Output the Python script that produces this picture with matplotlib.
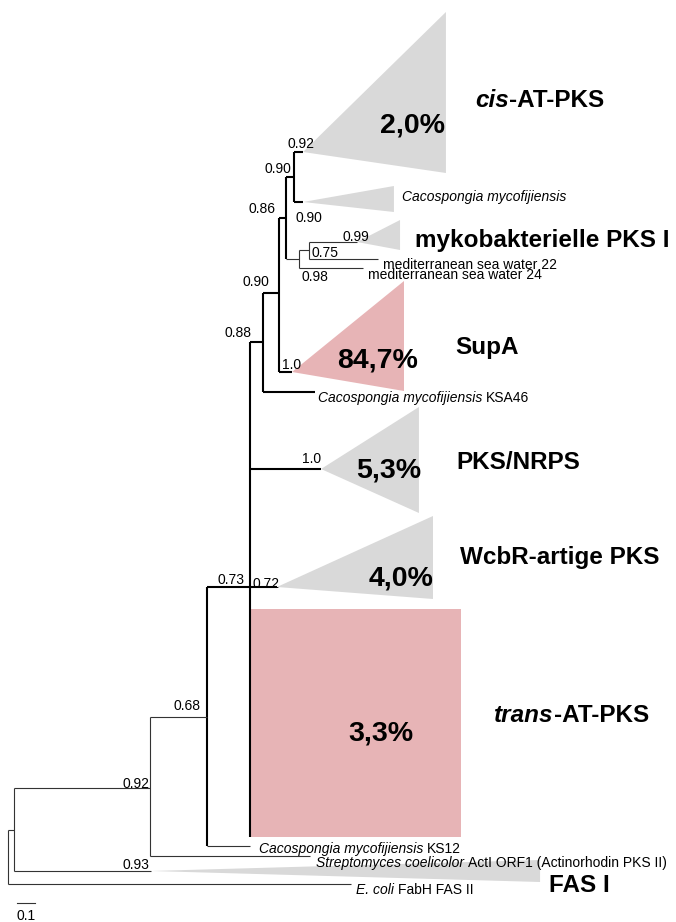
import matplotlib
matplotlib.use("Agg")
import matplotlib.pyplot as plt
from matplotlib.patches import Polygon, Rectangle
from matplotlib.text import Text

FONT = ["Liberation Sans", "DejaVu Sans"]
plt.rcParams["font.family"] = FONT

# ---------------- tree data ----------------
# internal nodes: name, parent, depth (branch-length units), vertical position
node_names  = ["root", "n1", "n2", "n3", "n4", "n5", "n6", "n7", "n8", "n9", "n10"]
node_parent = [None, "root", "n1", "n2", "n3", "n4", "n5", "n6", "n7", "n7", "n9"]
node_depth  = [0.0, 0.033, 0.789, 1.106, 1.344, 1.417, 1.506, 1.544, 1.589, 1.617, 1.672]
node_y      = [857, 830, 788, 717, 587, 342, 293, 218, 177, 259, 250]

# leaf branches
tip_parent = ["root", "n2", "n3", "n5", "n9", "n10"]
tip_depth  = [1.906, 1.678, 1.344, 1.706, 1.972, 2.056]
tip_y      = [884, 856, 846, 392, 268, 259]

# collapsed clades (triangles)
clade_names  = ["cis-AT-PKS", "Cacospongia", "myko", "SupA", "PKS/NRPS", "WcbR", "FAS I"]
clade_parent = ["n8", "n8", "n10", "n6", "n4", "n4", "n1"]
clade_apex   = [1.639, 1.639, 1.939, 1.578, 1.739, 1.494, 0.794]
clade_tip    = [2.433, 2.144, 2.178, 2.200, 2.283, 2.361, 2.956]
clade_y      = [152, 202, 242, 372, 469, 587, 871]
clade_top    = [12, 186, 220, 281, 407, 516, 860]
clade_bottom = [173, 212, 250, 391, 513, 599, 882]
clade_pink   = [False, False, False, True, False, False, False]

# collapsed clade drawn as block (trans-AT-PKS)
block_parent = "n4"
block_x0, block_x1 = 1.344, 2.517
block_top, block_bottom = 609, 837

# support values and where they are printed (depth, vertical)
support_vals = ["0.92", "0.90", "0.90", "0.86", "0.99", "0.75", "0.98", "0.90",
                "1.0", "0.88", "1.0", "0.73", "0.72", "0.68", "0.92", "0.93"]
support_x = [1.628, 1.500, 1.672, 1.411, 1.933, 1.761, 1.706, 1.378,
             1.578, 1.280, 1.689, 1.239, 1.433, 0.994, 0.711, 0.711]
support_y = [143, 168, 217, 208, 236, 252, 276, 281,
             364, 332, 458, 579, 583, 705, 783, 864]

thin_nodes = {"root", "n1", "n2", "n9", "n10"}
thin_children = {"n3", "n9"}

GRAY = "#d9d9d9"
PINK = "#e7b4b6"

fig = plt.figure(figsize=(6.76, 9.22), dpi=100)
ax = fig.add_axes([0, 0, 1, 1])
ax.set_xlim(-8 / 180, 668 / 180)
ax.set_ylim(922, 0)
ax.axis("off")

LW_THICK = 1.5
LW_THIN = 0.8
C_THICK = "black"
C_THIN = "#333333"

depth = dict(zip(node_names, node_depth))
ypos = dict(zip(node_names, node_y))

# children vertical extents
ext = {n: [] for n in node_names}
for n, p in zip(node_names, node_parent):
    if p:
        ext[p].append(ypos[n])
for p, y in zip(tip_parent, tip_y):
    ext[p].append(y)
for p, y in zip(clade_parent, clade_y):
    ext[p].append(y)
ext[block_parent] += [block_bottom]

# triangles
for i in range(len(clade_names)):
    poly = Polygon([(clade_apex[i], clade_y[i]), (clade_tip[i], clade_top[i]),
                    (clade_tip[i], clade_bottom[i])], closed=True,
                   facecolor=PINK if clade_pink[i] else GRAY, edgecolor="none", zorder=1)
    ax.add_patch(poly)
ax.add_patch(Rectangle((block_x0, block_top), block_x1 - block_x0, block_bottom - block_top,
                       facecolor=PINK, edgecolor="none", zorder=1))

# verticals
for n in node_names:
    ys = ext[n]
    thin = n in thin_nodes
    ax.plot([depth[n], depth[n]], [min(ys), max(ys)], color=C_THIN if thin else C_THICK,
            lw=LW_THIN if thin else LW_THICK, solid_capstyle="butt", zorder=3)
# node branches
for n, p in zip(node_names, node_parent):
    if p:
        thin = (p in thin_nodes) or (n in thin_children)
        ax.plot([depth[p], depth[n]], [ypos[n], ypos[n]], color=C_THIN if thin else C_THICK,
                lw=LW_THIN if thin else LW_THICK, solid_capstyle="butt", zorder=3)
# tip branches
for p, d, y in zip(tip_parent, tip_depth, tip_y):
    thin = p in thin_nodes or p == "n3"
    ax.plot([depth[p], d], [y, y], color=C_THIN if thin else C_THICK,
            lw=LW_THIN if thin else LW_THICK, solid_capstyle="butt", zorder=3)
# clade branches
for p, a, y in zip(clade_parent, clade_apex, clade_y):
    thin = p in thin_nodes
    ax.plot([depth[p], a], [y, y], color=C_THIN if thin else C_THICK,
            lw=LW_THIN if thin else LW_THICK, solid_capstyle="butt", zorder=3)

# ---------------- text helpers ----------------
renderer = fig.canvas.get_renderer()


def width_pt(s, size, style, weight):
    t = Text(0, 0, s, fontsize=size, fontstyle=style, fontweight=weight, family=FONT)
    t.set_figure(fig)
    return t.get_window_extent(renderer).width * 72 / fig.dpi


def rich(x, y, parts, size, ha="left"):
    items = []
    for s, st, wt in parts:
        lead = len(s) - len(s.lstrip(" "))
        core = s.lstrip(" ")
        sp = (width_pt("x x", size, st, wt) - width_pt("xx", size, st, wt)) * lead
        items.append((core, st, wt, sp, width_pt(core, size, st, wt)))
    total = sum(it[3] + it[4] for it in items)
    dx = {"left": 0, "center": -total / 2, "right": -total}[ha]
    for core, st, wt, sp, w in items:
        dx += sp
        ax.annotate(core, xy=(x, y), xytext=(dx, -0.36 * size), textcoords="offset points",
                    va="baseline", ha="left", fontsize=size, fontstyle=st, fontweight=wt,
                    annotation_clip=False, zorder=5)
        dx += w


def px(xp):
    return (xp - 8) / 180


N, I, B = "normal", "italic", "bold"
SMALL = 10
BIG = 17.5
PCT = 20.5

# support values
for v, sx, sy in zip(support_vals, support_x, support_y):
    rich(sx, sy, [(v, N, N)], SMALL, ha="center")

# taxon labels
rich(px(402), 196, [("Cacospongia mycofijiensis", I, N)], SMALL)
rich(px(383), 264, [("mediterranean sea water 22", N, N)], SMALL)
rich(px(368), 274, [("mediterranean sea water 24", N, N)], SMALL)
rich(px(318), 397, [("Cacospongia mycofijiensis", I, N), (" KSA46", N, N)], SMALL)
rich(px(259), 848, [("Cacospongia mycofijiensis", I, N), (" KS12", N, N)], SMALL)
rich(px(316), 862, [("Streptomyces coelicolor", I, N), (" ActI ORF1 (Actinorhodin PKS II)", N, N)], SMALL)
rich(px(356), 889, [("E. coli", I, N), (" FabH FAS II", N, N)], SMALL)

# group labels
rich(px(475), 98, [("cis", I, B), ("-AT-PKS", N, B)], BIG)
rich(px(415), 238, [("mykobakterielle PKS I", N, B)], BIG)
rich(px(455), 345, [("SupA", N, B)], BIG)
rich(px(456), 460, [("PKS/NRPS", N, B)], BIG)
rich(px(460), 555, [("WcbR-artige PKS", N, B)], BIG)
rich(px(494), 713, [("trans", I, B), ("-AT-PKS", N, B)], BIG)
rich(px(549), 883, [("FAS I", N, B)], BIG)

# percentages
pct_text = ["2,0%", "84,7%", "5,3%", "4,0%", "3,3%"]
pct_x = [412, 378, 389, 401, 381]
pct_y = [122, 357, 467, 575, 730]
for t, xx, yy in zip(pct_text, pct_x, pct_y):
    rich(px(xx), yy, [(t, N, B)], PCT, ha="center")

# scale bar
scale_len = 0.1
ax.plot([px(17), px(17) + scale_len], [903, 903], color=C_THIN, lw=LW_THIN)
rich(px(17) + scale_len / 2, 915, [("0.1", N, N)], SMALL, ha="center")

fig.savefig("out.png", dpi=100)
